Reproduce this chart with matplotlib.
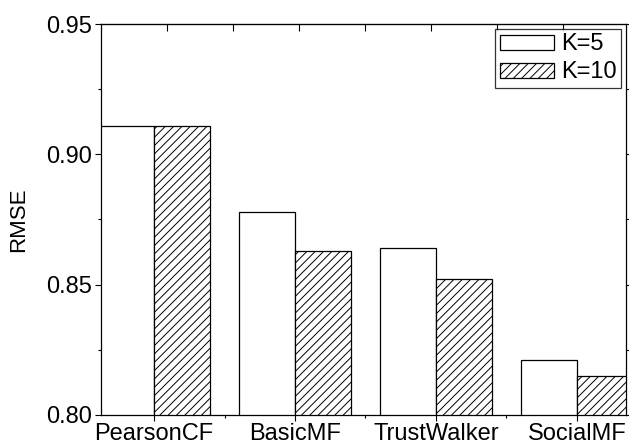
import numpy as np
import matplotlib.pyplot as plt
from matplotlib.ticker import MultipleLocator

plt.rcParams['font.family'] = ['Liberation Sans', 'DejaVu Sans']
plt.rcParams['hatch.linewidth'] = 0.7

methods = ['PearsonCF', 'BasicMF', 'TrustWalker', 'SocialMF']
rmse_k5 = [0.911, 0.878, 0.864, 0.821]
rmse_k10 = [0.911, 0.863, 0.852, 0.815]

fig = plt.figure(figsize=(6.29, 4.47), dpi=100)
ax = fig.add_axes([0.1606, 0.0716, 0.8346, 0.8747])

x = np.arange(len(methods))
w = 0.4
ax.bar(x - w / 2, rmse_k5, w, color='white', edgecolor='black', linewidth=0.9, label='K=5')
ax.bar(x + w / 2, rmse_k10, w, color='white', edgecolor='black', linewidth=0.9,
       hatch='////', label='K=10')

ax.set_xlim(-0.376, 3.348)
ax.set_ylim(0.80, 0.95)
ax.set_xticks(x)
ax.set_xticklabels(methods)
ax.set_xticks(x[:-1] + 0.5, minor=True)
ax.yaxis.set_major_locator(MultipleLocator(0.05))
ax.yaxis.set_minor_locator(MultipleLocator(0.025))
ax.yaxis.set_major_formatter(plt.FormatStrFormatter('%.2f'))

ax.tick_params(axis='both', which='major', labelsize=17, length=4.5, width=0.8,
               direction='out', right=True, pad=2)
ax.tick_params(axis='x', which='major', pad=1)
ax.tick_params(axis='both', which='minor', length=2.5, width=0.8,
               direction='out', right=True)
ax.set_ylabel('RMSE', fontsize=16, labelpad=12)

# top axis ticks (inward, unlabeled)
top = ax.secondary_xaxis('top')
top.set_xticks(np.arange(0.092, 3.3, 0.468))
top.tick_params(direction='in', length=5, width=0.8, labeltop=False)
top.xaxis.set_minor_locator(plt.NullLocator())

for s in ax.spines.values():
    s.set_linewidth(0.9)

leg = ax.legend(loc='upper right', fontsize=17, frameon=True, fancybox=False,
                edgecolor='black', handlelength=2.3, handleheight=0.6,
                borderpad=0.2, labelspacing=0.25, handletextpad=0.3,
                borderaxespad=0.2)
leg.get_frame().set_linewidth(0.9)

fig.savefig('out.png', dpi=100)
